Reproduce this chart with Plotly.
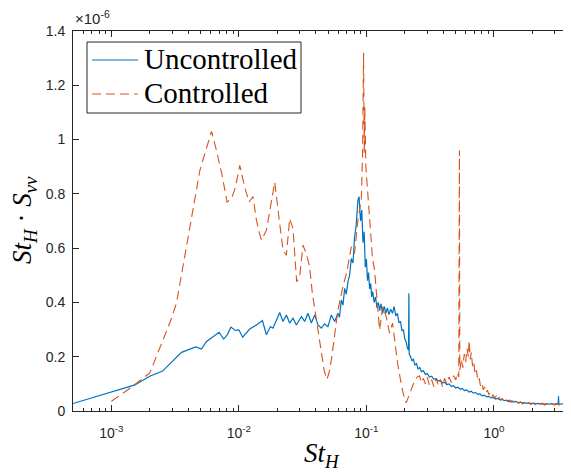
import math
import plotly.graph_objects as go

# ---------------- data (values in units of 1e-6) ----------------
unc_x = [0.0005, 0.00099, 0.00153, 0.0020, 0.00252, 0.00355, 0.00458, 0.00509, 0.00557, 0.0070,
         0.0076, 0.0081, 0.00865, 0.0094, 0.0100, 0.0107, 0.01216, 0.01372, 0.01529, 0.01644,
         0.01766, 0.01851, 0.01968, 0.02089, 0.02218, 0.02358, 0.0250, 0.02655, 0.02825, 0.0309,
         0.0328, 0.0348, 0.0370, 0.0393, 0.0417, 0.0443, 0.0470, 0.0499, 0.0531, 0.0564,
         0.0598, 0.0615, 0.0635, 0.0655, 0.0675, 0.0695, 0.0716, 0.0738, 0.0761, 0.0785,
         0.0807, 0.0830, 0.0857, 0.0875, 0.0900, 0.0920, 0.0940, 0.0960, 0.0980, 0.100,
         0.102, 0.104, 0.106, 0.108, 0.110, 0.112, 0.115, 0.118, 0.121, 0.124,
         0.127, 0.130, 0.134, 0.138, 0.142, 0.146, 0.150, 0.155, 0.160, 0.165,
         0.170, 0.175, 0.180, 0.185, 0.190, 0.195, 0.200, 0.205, 0.210, 0.2140,
         0.2153, 0.2166, 0.222, 0.228, 0.234, 0.240, 0.247, 0.254, 0.262, 0.270,
         0.280, 0.290, 0.300, 0.312, 0.325, 0.338, 0.352, 0.366, 0.380, 0.395,
         0.410, 0.427, 0.445, 0.463, 0.482, 0.502, 0.522, 0.543, 0.565, 0.588,
         0.612, 0.637, 0.663, 0.690, 0.718, 0.747, 0.777, 0.809, 0.842, 0.876,
         0.912, 0.949, 0.988, 1.03, 1.07, 1.12, 1.16, 1.21, 1.26, 1.31,
         1.37, 1.42, 1.48, 1.54, 1.61, 1.67, 1.74, 1.81, 1.89, 1.96,
         2.04, 2.13, 2.22, 2.31, 2.40, 2.50, 2.61, 2.71, 2.83, 2.94,
         3.06, 3.19, 3.21, 3.23, 3.33, 3.47, 3.61, 3.76, 3.92, 4.0]
unc_y = [0.0275, 0.069, 0.096, 0.128, 0.147, 0.216, 0.236, 0.228, 0.256, 0.290,
         0.265, 0.280, 0.309, 0.297, 0.299, 0.272, 0.302, 0.317, 0.333, 0.281,
         0.311, 0.305, 0.336, 0.363, 0.330, 0.354, 0.324, 0.342, 0.317, 0.348,
         0.330, 0.360, 0.324, 0.354, 0.317, 0.305, 0.321, 0.311, 0.354, 0.330,
         0.360, 0.345, 0.409, 0.390, 0.452, 0.430, 0.476, 0.500, 0.562, 0.545,
         0.641, 0.680, 0.776, 0.790, 0.700, 0.740, 0.620, 0.660, 0.530, 0.560,
         0.480, 0.510, 0.450, 0.470, 0.420, 0.440, 0.400, 0.420, 0.380, 0.400,
         0.370, 0.395, 0.360, 0.385, 0.360, 0.380, 0.355, 0.375, 0.360, 0.385,
         0.350, 0.360, 0.325, 0.330, 0.295, 0.300, 0.265, 0.255, 0.230, 0.225,
         0.434, 0.210, 0.200, 0.185, 0.190, 0.170, 0.175, 0.155, 0.160, 0.145,
         0.148, 0.135, 0.138, 0.125, 0.128, 0.117, 0.120, 0.110, 0.113, 0.103,
         0.106, 0.097, 0.100, 0.090, 0.093, 0.085, 0.088, 0.080, 0.083, 0.075,
         0.078, 0.070, 0.073, 0.066, 0.068, 0.061, 0.063, 0.056, 0.058, 0.052,
         0.054, 0.048, 0.050, 0.044, 0.046, 0.041, 0.043, 0.038, 0.040, 0.035,
         0.037, 0.033, 0.035, 0.031, 0.033, 0.029, 0.031, 0.028, 0.030, 0.027,
         0.029, 0.026, 0.028, 0.026, 0.028, 0.025, 0.027, 0.025, 0.027, 0.025,
         0.027, 0.026, 0.054, 0.026, 0.025, 0.027, 0.025, 0.027, 0.025, 0.026]

ctl_x = [0.0010, 0.001355, 0.0020, 0.0024, 0.00287, 0.00324, 0.00377, 0.00438, 0.00494, 0.0055,
         0.0061, 0.00667, 0.00743, 0.00807, 0.00874, 0.0094, 0.01016, 0.0111, 0.0120, 0.01291,
         0.01372, 0.01440, 0.01502, 0.01644, 0.01799, 0.01909, 0.02089, 0.02218, 0.02358, 0.0250,
         0.02655, 0.02838, 0.02996, 0.03180, 0.0338, 0.03588, 0.03767, 0.04050, 0.0443, 0.0466,
         0.0490, 0.0509, 0.0531, 0.0564, 0.0598, 0.0654, 0.0703, 0.0761, 0.0807, 0.0857,
         0.0912, 0.0933, 0.0950, 0.0962, 0.0972, 0.0990, 0.1027, 0.1059, 0.1092, 0.1117,
         0.1158, 0.1200, 0.1230, 0.1268, 0.1345, 0.1430, 0.1518, 0.1603, 0.1662, 0.1700,
         0.1764, 0.1875, 0.1954, 0.2051, 0.2138, 0.2245, 0.2383, 0.250, 0.2608, 0.270,
         0.280, 0.290, 0.300, 0.312, 0.325, 0.338, 0.352, 0.366, 0.380, 0.395,
         0.410, 0.427, 0.445, 0.463, 0.482, 0.502, 0.515, 0.530, 0.536, 0.540,
         0.555, 0.570, 0.585, 0.600, 0.615, 0.630, 0.640, 0.652, 0.665, 0.680,
         0.695, 0.712, 0.730, 0.748, 0.767, 0.786, 0.806, 0.826, 0.847, 0.868,
         0.890, 0.912, 0.935, 0.96, 0.985, 1.01, 1.04, 1.07, 1.10, 1.13,
         1.16, 1.20, 1.24, 1.28, 1.32, 1.36, 1.41, 1.46, 1.51, 1.56,
         1.62, 1.68, 1.74, 1.81, 1.88, 1.95, 2.03, 2.11, 2.20, 2.29,
         2.39, 2.49, 2.60, 2.72, 2.84, 2.97, 3.10, 3.24, 3.39, 3.55,
         3.72, 3.90, 4.0]
ctl_y = [0.036, 0.079, 0.140, 0.232, 0.324, 0.397, 0.568, 0.739, 0.886, 0.960,
         1.030, 0.960, 0.862, 0.770, 0.782, 0.825, 0.905, 0.825, 0.770, 0.790,
         0.703, 0.660, 0.629, 0.666, 0.776, 0.843, 0.690, 0.593, 0.574, 0.709,
         0.672, 0.476, 0.495, 0.611, 0.580, 0.531, 0.434, 0.336, 0.201, 0.150,
         0.116, 0.140, 0.189, 0.287, 0.372, 0.458, 0.513, 0.605, 0.580, 0.703,
         0.780, 0.950, 1.320, 0.950, 1.120, 0.900, 0.800, 0.700, 0.600, 0.560,
         0.520, 0.410, 0.372, 0.299, 0.385, 0.348, 0.287, 0.324, 0.262, 0.240,
         0.170, 0.100, 0.060, 0.030, 0.054, 0.080, 0.110, 0.125, 0.130, 0.105,
         0.120, 0.100, 0.125, 0.095, 0.115, 0.090, 0.120, 0.095, 0.115, 0.090,
         0.120, 0.100, 0.125, 0.105, 0.130, 0.115, 0.140, 0.125, 0.960, 0.150,
         0.190, 0.160, 0.210, 0.180, 0.230, 0.200, 0.260, 0.190, 0.215, 0.165,
         0.180, 0.135, 0.150, 0.110, 0.120, 0.090, 0.100, 0.078, 0.088, 0.068,
         0.077, 0.060, 0.068, 0.053, 0.060, 0.047, 0.055, 0.043, 0.050, 0.040,
         0.046, 0.037, 0.043, 0.034, 0.040, 0.032, 0.037, 0.030, 0.035, 0.028,
         0.033, 0.026, 0.031, 0.025, 0.030, 0.024, 0.029, 0.023, 0.028, 0.023,
         0.028, 0.022, 0.027, 0.022, 0.027, 0.022, 0.027, 0.022, 0.027, 0.022,
         0.027, 0.022, 0.026]

series_names = ["Uncontrolled", "Controlled"]
y_tick_vals = [0, 0.2, 0.4, 0.6, 0.8, 1.0, 1.2, 1.4]
y_tick_text = ["0", "0.2", "0.4", "0.6", "0.8", "1", "1.2", "1.4"]
x_tick_vals = [1e-3, 1e-2, 1e-1, 1e0]
x_tick_text = ["10<sup>-3</sup>", "10<sup>-2</sup>", "10<sup>-1</sup>", "10<sup>0</sup>"]
x_minor_vals = [k * 10.0 ** e for e in range(-4, 1) for k in range(2, 10)
                if 5e-4 < k * 10.0 ** e < 3.95]

# ---------------- styling ----------------
BLUE = "#0072BD"
ORANGE = "#D95319"
AXC = "#262626"
DASH = "9px,5px"
OFF = 8                      # default body margin of the html page
W, H = 571 - OFF, 473 - OFF  # figure size inside the window
ML, MR, MT, MB = 73 - OFF, 1, 31 - OFF, 62
pw = W - ML - MR
ph = H - MT - MB


def px_x(px):   # window pixel -> paper x
    return (px - OFF - ML) / pw


def px_y(py):   # window pixel -> paper y
    return 1 - (py - OFF - MT) / ph


fig = go.Figure()
fig.add_trace(go.Scatter(x=unc_x, y=unc_y, mode="lines", name=series_names[0],
                         line=dict(color=BLUE, width=1.2), showlegend=False))
fig.add_trace(go.Scatter(x=ctl_x, y=ctl_y, mode="lines", name=series_names[1],
                         line=dict(color=ORANGE, width=1.1, dash=DASH), showlegend=False))

tickfont = dict(family="Liberation Sans, Arial, sans-serif", size=14, color=AXC)
serif = "Liberation Serif, Times New Roman, serif"

# legend box (MATLAB-style), drawn in paper coordinates
legend_shapes = [
    dict(type="rect", xref="paper", yref="paper", x0=px_x(87), x1=px_x(301),
         y0=px_y(113), y1=px_y(42), line=dict(color=AXC, width=1), fillcolor="white",
         layer="above"),
    dict(type="line", xref="paper", yref="paper", x0=px_x(92), x1=px_x(138),
         y0=px_y(60), y1=px_y(60), line=dict(color=BLUE, width=1.2), layer="above"),
    dict(type="line", xref="paper", yref="paper", x0=px_x(92), x1=px_x(138),
         y0=px_y(94), y1=px_y(94), line=dict(color=ORANGE, width=1.1, dash=DASH),
         layer="above"),
]
legend_texts = [
    dict(text=series_names[0], xref="paper", yref="paper", x=px_x(142), y=px_y(59),
         xanchor="left", yanchor="middle", showarrow=False,
         font=dict(family=serif, size=29, color="black")),
    dict(text=series_names[1], xref="paper", yref="paper", x=px_x(142), y=px_y(93),
         xanchor="left", yanchor="middle", showarrow=False,
         font=dict(family=serif, size=29, color="black")),
]

fig.update_layout(
    width=W, height=H,
    margin=dict(l=ML, r=MR, t=MT, b=MB, pad=0),
    paper_bgcolor="white", plot_bgcolor="white",
    showlegend=False,
    xaxis=dict(type="log", range=[math.log10(5e-4), math.log10(3.95)],
               showgrid=False, zeroline=False,
               showline=True, linecolor=AXC, linewidth=1, mirror="ticks",
               ticks="inside", ticklen=6, tickwidth=1, tickcolor=AXC,
               tickmode="array", tickvals=x_tick_vals, ticktext=x_tick_text,
               tickfont=tickfont, ticklabelstandoff=9,
               minor=dict(ticks="inside", ticklen=3, tickwidth=1, tickcolor=AXC,
                          tickmode="array", tickvals=x_minor_vals, showgrid=False)),
    yaxis=dict(range=[0, 1.4], showgrid=False, zeroline=False,
               showline=True, linecolor=AXC, linewidth=1, mirror="ticks",
               ticks="inside", ticklen=6, tickwidth=1, tickcolor=AXC,
               tickmode="array", tickvals=y_tick_vals, ticktext=y_tick_text,
               tickfont=tickfont, ticklabelstandoff=4),
    shapes=legend_shapes,
    annotations=legend_texts + [
        dict(text="×10<sup>-6</sup>", xref="paper", yref="paper", x=px_x(73), y=px_y(29),
             xanchor="left", yanchor="bottom", showarrow=False,
             font=dict(family="Liberation Sans, Arial, sans-serif", size=15, color=AXC)),
        dict(text="<i>St</i><sub><i>H</i></sub>", xref="paper", yref="paper",
             x=px_x(322), y=px_y(455), xanchor="center", yanchor="middle",
             showarrow=False,
             font=dict(family=serif, size=27, color="black")),
        dict(text="<i>St</i><sub><i>H</i></sub> · <i>S</i><sub><i>vv</i></sub>",
             xref="paper", yref="paper", x=px_x(24), y=px_y(220),
             xanchor="center", yanchor="middle", textangle=-90, showarrow=False,
             font=dict(family=serif, size=27, color="black")),
    ],
)

fig.write_html("out.html")
